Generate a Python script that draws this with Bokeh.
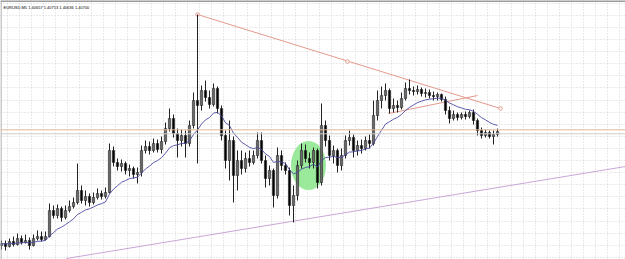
from bokeh.plotting import figure
from bokeh.models import Range1d, FixedTicker, Span, Label, Grid, ColumnDataSource
from bokeh.embed import file_html
from bokeh.resources import INLINE
import pandas as pd

# ---- data (price levels, arbitrary point units; bar index on x) ----
opens = [15,17,14,19,16,22,18,20,15,22, 24,21,24,50,45,52,43,50,54,58,
         70,60,64,58,63,67,64,68,110,98, 94,97,90,92,86,88,110,114,110,117,
         111,119,132,142,127,120,125,117,135,160, 155,170,163,156,172,152,125,100,120,85,
         100,92,102,98,105,120,100,82,90,65, 105,95,90,55,65,95,110,102,98,110,
         78,135,120,105,110,95,105,120,123,110, 115,112,120,117,145,160,165,170,152,155,
         153,162,172,170,169,171,167,168,165,164, 166,161,150,142,146,143,146,144,148,140,
         130,125,128,124,126]
closes = [17,14,19,16,22,18,20,15,22,24, 21,24,50,45,52,43,50,54,58,70,
          60,64,58,63,67,64,68,110,98,94, 97,90,92,86,88,110,114,110,117,111,
          119,132,142,127,120,125,117,135,160,155, 170,163,156,172,152,125,100,120,85,100,
          92,102,98,105,120,100,82,90,65,105, 95,90,55,65,95,110,102,98,110,78,
          135,120,105,110,95,105,120,123,110,115, 112,120,117,145,160,165,170,152,155,153,
          162,172,170,169,171,167,168,165,164,166, 161,150,142,146,143,146,144,148,140,130,
          125,128,124,126,129]
highs = [20,20,22,24,27,25,26,23,26,30, 29,29,57,55,56,54,55,60,63,97,
         75,70,67,68,72,70,73,117,114,102, 101,99,96,94,93,115,120,119,122,121,
         124,138,152,146,132,131,130,140,168,246, 175,180,170,177,174,155,130,140,124,110,
         110,108,110,110,128,128,105,95,92,113, 110,98,93,75,100,117,116,108,113,112,
         157,140,125,115,112,112,125,130,126,120, 121,124,126,160,170,174,177,172,162,160,
         168,178,181,174,175,173,172,171,169,168, 167,164,154,150,148,148,149,150,151,142,
         133,131,130,130,132]
lows = [11,10,13,14,15,16,17,11,14,20, 19,20,23,42,42,39,41,48,52,56,
        57,55,54,56,61,61,62,67,94,90, 89,86,84,82,77,84,107,106,108,108,
        107,116,129,123,103,114,103,114,132,97, 150,159,152,154,147,120,92,80,58,70,
        86,88,94,96,102,97,73,75,53,62, 90,86,45,38,60,92,98,92,92,72,
        75,114,100,97,88,90,102,115,103,105, 107,110,112,115,140,152,160,147,148,148,
        151,160,166,165,166,164,163,162,160,160, 159,146,137,140,140,141,141,142,136,125,
        122,123,122,116,124]

title_text = "EURUSD,M5  1.40657 1.40713 1.40636 1.40700"

# drawn objects (bar index, level)
res_line = ([49, 124.75], [246, 152])
res_mid = (86.5, 199)
small_line = ([96.75, 119], [147, 165])
sup_line = ([16.25, 156], [2, 94])
orange_level = 130.7
gray_level = 126.7
ellipse_c = (76.75, 95)
ellipse_wh = (8.75, 49)

n = len(closes)
idx = list(range(n))
top = [max(o, c) for o, c in zip(opens, closes)]
bot = [min(o, c) for o, c in zip(opens, closes)]
bull = [c > o for o, c in zip(opens, closes)]
fill = ["#6a6a6a" if b else "#000000" for b in bull]
ma = pd.Series(closes, dtype=float).ewm(span=12, adjust=False).mean().tolist()

src = ColumnDataSource(dict(x=idx, o=opens, c=closes, h=highs, l=lows,
                            top=top, bot=bot, fill=fill, ma=ma))

p = figure(width=625, height=259, output_backend="svg", toolbar_location=None,
           x_range=Range1d(-0.25, 156.0), y_range=Range1d(1, 260),
           x_axis_location=None, y_axis_location=None, min_border=0)
p.grid.visible = False
p.outline_line_color = None
p.background_fill_color = "white"
p.border_fill_color = "white"

xt = [1.425 + 3 * k for k in range(53)]
yt = [257.3 - 12.1 * k for k in range(22)]
p.add_layout(Grid(dimension=0, ticker=FixedTicker(ticks=xt),
                  grid_line_color="#d4d4d4", grid_line_dash="1 2", grid_line_width=1))
p.add_layout(Grid(dimension=1, ticker=FixedTicker(ticks=yt),
                  grid_line_color="#d4d4d4", grid_line_dash="1 2", grid_line_width=1))

# borders (top and left)
p.add_layout(Span(location=259.5, dimension="width", line_color="#7a7a7a", line_width=1.5))
p.add_layout(Span(location=-0.12, dimension="height", line_color="#9a9a9a", line_width=1))

# horizontal levels
p.add_layout(Span(location=orange_level, dimension="width", line_color="#e2b896", line_width=1))
p.add_layout(Span(location=gray_level, dimension="width", line_color="#cccccc", line_width=1))

# green ellipse
p.ellipse(x=[ellipse_c[0]], y=[ellipse_c[1]], width=[ellipse_wh[0]], height=[ellipse_wh[1]],
          fill_color="#90e890", fill_alpha=0.9, line_color=None)

# trend lines
p.line(sup_line[0], sup_line[1], line_color="#c9a6d6", line_width=1)
p.line(res_line[0], res_line[1], line_color="#e49a8c", line_width=1)
p.line(small_line[0], small_line[1], line_color="#e49a8c", line_width=1)
p.scatter(res_line[0] + [res_mid[0]], res_line[1] + [res_mid[1]], marker="circle", size=3.5,
          fill_color="white", line_color="#e49a8c", line_width=1)

# candles
p.segment(x0="x", y0="l", x1="x", y1="h", source=src, line_color="#222222", line_width=1)
p.vbar(x="x", width=0.55, top="top", bottom="bot", source=src,
       fill_color="fill", line_color="#222222", line_width=0.6)

# moving average
p.line("x", "ma", source=src, line_color="#4a4aa0", line_width=0.9)

p.add_layout(Label(x=3, y=252, x_units="screen", y_units="screen", text=title_text,
                   text_font="Liberation Sans", text_font_size="4px", text_color="#000000",
                   text_baseline="middle"))

open("out.html", "w").write(file_html(p, INLINE))
